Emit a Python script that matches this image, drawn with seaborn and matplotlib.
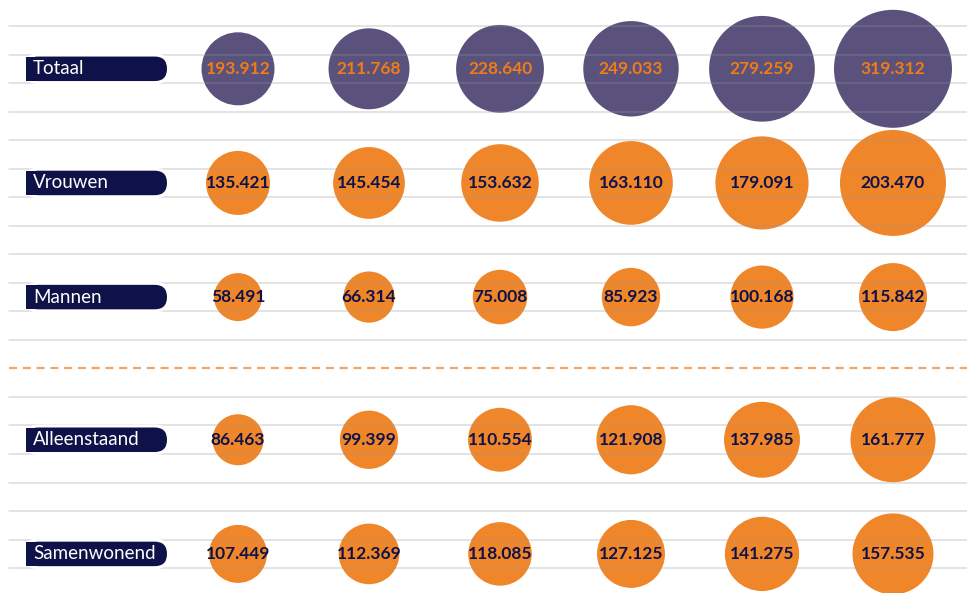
import matplotlib
matplotlib.use("Agg")
import matplotlib.pyplot as plt
import matplotlib.transforms as mtransforms
from matplotlib.patches import FancyBboxPatch, Rectangle
import seaborn as sns
import pandas as pd

# ---------------- data ----------------
groepen = ["Totaal", "Vrouwen", "Mannen", "Alleenstaand", "Samenwonend"]
kolommen = [1, 2, 3, 4, 5, 6]
totaal = [193912, 211768, 228640, 249033, 279259, 319312]
vrouwen = [135421, 145454, 153632, 163110, 179091, 203470]
mannen = [58491, 66314, 75008, 85923, 100168, 115842]
alleenstaand = [86463, 99399, 110554, 121908, 137985, 161777]
samenwonend = [107449, 112369, 118085, 127125, 141275, 157535]
reeksen = [totaal, vrouwen, mannen, alleenstaand, samenwonend]

# ---------------- style ----------------
sns.set_theme(style="white")
plt.rcParams["font.family"] = ["Lato", "DejaVu Sans"]

NAVY = "#0e1248"
PURPLE = "#5a517d"
ORANGE = "#f0862a"
ORANGE_TXT = "#f07c14"
DASH = "#f5a461"

W, H = 967, 593
fig = plt.figure(figsize=(W / 100, H / 100), dpi=100)
ax = fig.add_axes([0, 0, 1, 1])
ax.set_axis_off()

# layout: rows sit between grid lines (grid step = 1 unit)
row_y = [1.5, 5.5, 9.5, 14.5, 18.5]
n_lines = 20
dash_line = 12
ax.set_xlim(0.5 - 1.817, 0.5 + 5.565)
ax.set_ylim(19.87, -0.911)

# bubble diameter range (px) per row
diam = [(73, 118), (64, 106), (48, 68), (51, 85), (58, 81)]
colors = [PURPLE, ORANGE, ORANGE, ORANGE, ORANGE]
txt_colors = [ORANGE_TXT, NAVY, NAVY, NAVY, NAVY]

for i, (naam, vals) in enumerate(zip(groepen, reeksen)):
    df = pd.DataFrame({"kolom": [k - 1 + 0.5 for k in kolommen],
                       "rij": [row_y[i]] * len(vals),
                       "waarde": vals})
    dmin, dmax = diam[i]
    smin, smax = (0.72 * dmin) ** 2, (0.72 * dmax) ** 2
    sns.scatterplot(data=df, x="kolom", y="rij", size="waarde",
                    sizes=(smin, smax), size_norm=(min(vals), max(vals)),
                    color=colors[i], linewidth=0, legend=False, ax=ax,
                    zorder=2)
    for _, r in df.iterrows():
        ax.text(r["kolom"], r["rij"], f"{int(r['waarde']):,}".replace(",", "."),
                ha="center", va="center", fontsize=12.5, fontweight="bold",
                color=txt_colors[i], zorder=5)

# grid lines (drawn over the bubbles, slightly transparent)
for k in range(n_lines):
    if k == dash_line:
        ax.axhline(k, xmin=9 / W, xmax=1, color=DASH, lw=1.6,
                   dashes=(3.6, 2.6), zorder=3)
    else:
        ax.axhline(k, xmin=9 / W, xmax=1, color="#969696", lw=1.1,
                   alpha=0.34, zorder=3)

ax.set_xlabel("")
ax.set_ylabel("")

# pill labels on the left
blend = mtransforms.blended_transform_factory(ax.transAxes, ax.transData)
for i, naam in enumerate(groepen):
    tr = fig.dpi_scale_trans + mtransforms.ScaledTranslation(0, row_y[i], blend)
    x0, x1, h = 0.26, 1.67, 0.245
    halo = FancyBboxPatch((x0 - 0.03, -h / 2 - 0.03), x1 - x0 + 0.06, h + 0.06,
                          boxstyle=f"round,pad=0,rounding_size={h / 2 + 0.03}",
                          transform=tr, facecolor="white", edgecolor="none", zorder=6)
    ax.add_patch(halo)
    pill = FancyBboxPatch((x0, -h / 2), x1 - x0, h,
                          boxstyle=f"round,pad=0,rounding_size={h / 2}",
                          transform=tr, facecolor=NAVY, edgecolor="none", zorder=7)
    ax.add_patch(pill)
    ax.add_patch(Rectangle((x0, -h / 2), 0.3, h, transform=tr,
                           facecolor=NAVY, edgecolor="none", zorder=7))
    ax.text(x0 + 0.07, 0.0, naam, transform=tr, ha="left", va="center",
            fontsize=13.5, color="white", zorder=8)

fig.savefig("out.png", dpi=100)
